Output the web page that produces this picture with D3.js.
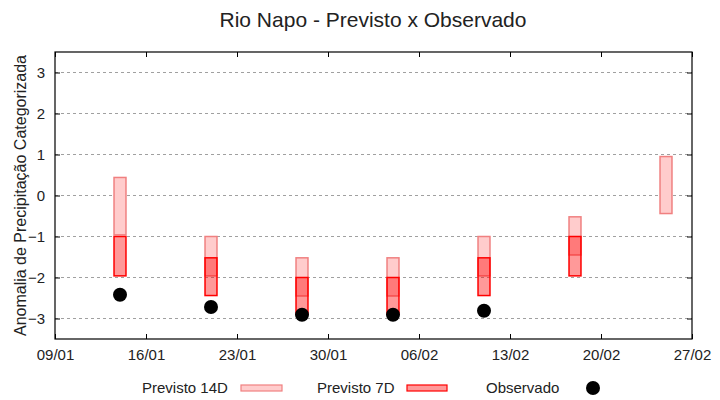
<!DOCTYPE html>
<html>
<head>
<meta charset="utf-8">
<script src="https://cdn.jsdelivr.net/npm/d3@7"></script>
<style>
  body { margin: 0; background: #fff; }
  text { font-family: "Liberation Sans", Arial, sans-serif; fill: #222; }
</style>
</head>
<body>
<script>
/* data */
const dates = ['14/01', '21/01', '28/01', '04/02', '11/02', '18/02', '25/02'];
const prev14Lo = [-0.96, -1.96, -2.45, -2.45, -1.96, -1.45, -0.44];
const prev14Hi = [0.44, -1.0, -1.52, -1.52, -1.0, -0.52, 0.95];
const prev7Lo = [-1.96, -2.44, -2.9, -2.9, -2.44, -1.96, null];
const prev7Hi = [-1.0, -1.52, -2.0, -2.0, -1.52, -1.0, null];
const observado = [-2.42, -2.72, -2.91, -2.91, -2.81, null, null];
const xTicks = ['09/01', '16/01', '23/01', '30/01', '06/02', '13/02', '20/02', '27/02'];
const yTicks = [-3, -2, -1, 0, 1, 2, 3];

const parse = s => d3.timeParse('%d/%m/%Y')(s + '/2024');
const fmt = d3.timeFormat('%d/%m');

const W = 720, H = 400;
const margin = { top: 52, right: 28, bottom: 61, left: 55 },
  width = W - margin.left - margin.right,
  height = H - margin.top - margin.bottom;

const svg = d3.select('body').append('svg')
  .attr('width', W)
  .attr('height', H);

const g = svg.append('g')
  .attr('transform', 'translate(' + margin.left + ',' + margin.top + ')');

/* scales */
const xScale = d3.scaleTime()
  .domain([parse(xTicks[0]), parse(xTicks[xTicks.length - 1])])
  .range([0, width]);
const yScale = d3.scaleLinear().domain([-3.5, 3.5]).range([height, 0]);

const dayPx = xScale(d3.timeDay.offset(parse('09/01'), 1)) - xScale(parse('09/01'));
const boxW = dayPx * 0.92;

/* grid */
g.append('g')
  .selectAll('line')
  .data(yTicks)
  .enter().append('line')
  .attr('x1', 0)
  .attr('x2', width)
  .attr('y1', d => yScale(d))
  .attr('y2', d => yScale(d))
  .attr('stroke', '#a0a0a0')
  .attr('stroke-dasharray', '3,3');

/* axes: gnuplot style, ticks inward and mirrored */
const xTickVals = xTicks.map(parse);
const axisX = g.append('g')
  .attr('transform', 'translate(0,' + height + ')')
  .call(d3.axisBottom(xScale).tickValues(xTickVals).tickFormat(fmt).tickSizeInner(-5).tickSizeOuter(0).tickPadding(10));
const axisXTop = g.append('g')
  .call(d3.axisTop(xScale).tickValues(xTickVals).tickFormat('').tickSizeInner(-5).tickSizeOuter(0));
const axisY = g.append('g')
  .call(d3.axisLeft(yScale).tickValues(yTicks).tickFormat(d3.format('d')).tickSizeInner(-5).tickSizeOuter(0).tickPadding(10));
const axisYRight = g.append('g')
  .attr('transform', 'translate(' + width + ',0)')
  .call(d3.axisRight(yScale).tickValues(yTicks).tickFormat('').tickSizeInner(-5).tickSizeOuter(0));

[axisX, axisXTop, axisY, axisYRight].forEach(a => {
  a.select('.domain').remove();
  a.selectAll('line').attr('stroke', '#000');
  a.selectAll('text')
    .style('font-size', '15px')
    .style('font-family', '"Liberation Sans", Arial, sans-serif')
    .attr('fill', '#222');
});

/* frame */
g.append('rect')
  .attr('width', width)
  .attr('height', height)
  .attr('fill', 'none')
  .attr('stroke', '#000')
  .attr('stroke-width', 1.2);

/* boxes */
const rows = dates.map((d, i) => ({
  date: parse(d),
  lo14: prev14Lo[i], hi14: prev14Hi[i],
  lo7: prev7Lo[i], hi7: prev7Hi[i],
  obs: observado[i]
}));

g.selectAll('.b14')
  .data(rows)
  .enter().append('rect')
  .attr('class', 'b14')
  .attr('x', d => xScale(d.date) - boxW / 2)
  .attr('width', boxW)
  .attr('y', d => yScale(d.hi14))
  .attr('height', d => yScale(d.lo14) - yScale(d.hi14))
  .attr('fill', '#ffcccc')
  .attr('stroke', '#f08080')
  .attr('stroke-width', 1.5);

g.selectAll('.b7')
  .data(rows.filter(d => d.lo7 !== null))
  .enter().append('rect')
  .attr('class', 'b7')
  .attr('x', d => xScale(d.date) - boxW / 2)
  .attr('width', boxW)
  .attr('y', d => yScale(d.hi7))
  .attr('height', d => yScale(d.lo7) - yScale(d.hi7))
  .attr('fill', 'rgba(255,0,0,0.4)')
  .attr('stroke', '#ff0000')
  .attr('stroke-width', 1.5);

g.selectAll('.dot')
  .data(rows.filter(d => d.obs !== null))
  .enter().append('circle')
  .attr('class', 'dot')
  .attr('r', 7)
  .attr('cx', d => xScale(d.date))
  .attr('cy', d => yScale(d.obs))
  .attr('fill', '#000');

/* title and axis label */
svg.append('text')
  .attr('x', 373)
  .attr('y', 27)
  .attr('text-anchor', 'middle')
  .style('font-size', '21px')
  .text('Rio Napo - Previsto x Observado');

svg.append('text')
  .attr('transform', 'rotate(-90)')
  .attr('x', -(margin.top + height / 2))
  .attr('y', 26)
  .attr('text-anchor', 'middle')
  .style('font-size', '16px')
  .text('Anomalia de Precipitação Categorizada');

/* legend */
const legY = 388;
svg.append('text').attr('x', 142).attr('y', legY + 5).style('font-size', '15px').text('Previsto 14D');
svg.append('rect').attr('x', 241).attr('y', legY - 3).attr('width', 41).attr('height', 6)
  .attr('fill', '#ffcccc').attr('stroke', '#f08080').attr('stroke-width', 1.2);
svg.append('text').attr('x', 317).attr('y', legY + 5).style('font-size', '15px').text('Previsto 7D');
svg.append('rect').attr('x', 407).attr('y', legY - 3).attr('width', 40).attr('height', 6)
  .attr('fill', 'rgba(255,0,0,0.4)').attr('stroke', '#ff0000').attr('stroke-width', 1.2);
svg.append('text').attr('x', 486).attr('y', legY + 5).style('font-size', '15px').text('Observado');
svg.append('circle').attr('cx', 593).attr('cy', legY).attr('r', 7).attr('fill', '#000');
</script>
</body>
</html>
